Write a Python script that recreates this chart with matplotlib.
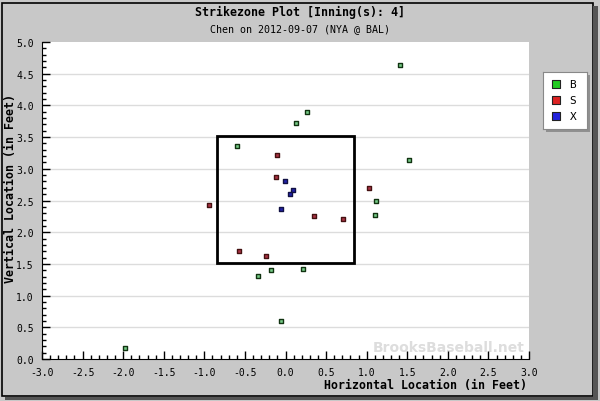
import matplotlib.pyplot as plt
from matplotlib.patches import Rectangle
from matplotlib.ticker import MultipleLocator

# === Pitch locations (feet) ===
ball_x = [1.41, 0.26, 0.13, -0.60, 1.52, 1.11, 1.10, 0.21, -0.18, -0.34, -0.06, -1.98]
ball_y = [4.64, 3.90, 3.72, 3.36, 3.14, 2.49, 2.27, 1.42, 1.40, 1.31, 0.60, 0.17]

strike_x = [-0.11, -0.12, 1.03, -0.94, 0.35, 0.71, -0.57, -0.24]
strike_y = [3.22, 2.87, 2.70, 2.43, 2.26, 2.21, 1.70, 1.62]

inplay_x = [-0.01, 0.09, 0.05, -0.06]
inplay_y = [2.81, 2.67, 2.60, 2.37]

zone_left, zone_right = -0.84, 0.84
zone_bottom, zone_top = 1.51, 3.51

legend_labels = ['B', 'S', 'X']
legend_colors = ['#22cc22', '#dd2222', '#2222dd']

mono = 'DejaVu Sans Mono'
bg = '#c8c8c8'

fig = plt.figure(figsize=(6.0, 4.02), dpi=100)
fig.patch.set_facecolor(bg)

# frame around the whole image
fig.patches.append(Rectangle((0.003, 0.012), 0.985, 0.978, transform=fig.transFigure,
                             fill=False, edgecolor='black', lw=1.2))
fig.patches.append(Rectangle((0.008, 0.003), 0.985, 0.008, transform=fig.transFigure,
                             facecolor='#555555', edgecolor='none'))
fig.patches.append(Rectangle((0.988, 0.003), 0.008, 0.98, transform=fig.transFigure,
                             facecolor='#555555', edgecolor='none'))

ax = fig.add_axes([0.07, 0.1045, 0.8117, 0.7885])
ax.set_facecolor('white')
ax.set_xlim(-3.0, 3.0)
ax.set_ylim(0.0, 5.0)

# horizontal grid only
for gy in [0.5, 1.0, 1.5, 2.0, 2.5, 3.0, 3.5, 4.0, 4.5]:
    ax.axhline(gy, color='#dcdcdc', lw=1.0, zorder=0)

# strike zone
ax.add_patch(Rectangle((zone_left, zone_bottom), zone_right - zone_left,
                       zone_top - zone_bottom, fill=False, edgecolor='black',
                       lw=2.0, zorder=2))

# pitches
ax.scatter(ball_x, ball_y, marker='s', s=10, c='#77cc88', edgecolors='#113311',
           linewidths=1.0, zorder=3)
ax.scatter(strike_x, strike_y, marker='s', s=10, c='#aa3344', edgecolors='#441111',
           linewidths=1.0, zorder=3)
ax.scatter(inplay_x, inplay_y, marker='s', s=10, c='#2222aa', edgecolors='#111144',
           linewidths=1.0, zorder=3)

# axes styling
for side in ['top', 'right']:
    ax.spines[side].set_visible(False)
ax.spines['left'].set_color('black')
ax.spines['bottom'].set_color('black')
ax.xaxis.set_major_locator(MultipleLocator(0.5))
ax.xaxis.set_minor_locator(MultipleLocator(0.1))
ax.yaxis.set_major_locator(MultipleLocator(0.5))
ax.yaxis.set_minor_locator(MultipleLocator(0.1))
ax.tick_params(which='major', direction='in', length=6, width=1, color='black',
               labelsize=7, pad=8)
ax.tick_params(which='minor', direction='in', length=3, width=1, color='black')
ax.set_xticks([-3.0, -2.5, -2.0, -1.5, -1.0, -0.5, 0.0, 0.5, 1.0, 1.5, 2.0, 2.5, 3.0])
ax.set_xticklabels(['%.1f' % v for v in ax.get_xticks()], fontfamily=mono)
ax.set_yticks([0.0, 0.5, 1.0, 1.5, 2.0, 2.5, 3.0, 3.5, 4.0, 4.5, 5.0])
ax.set_yticklabels(['%.1f' % v for v in ax.get_yticks()], fontfamily=mono)
ax.tick_params(axis='x', pad=6)
ax.tick_params(axis='y', pad=6)

# watermark
ax.text(2.95, 0.19, 'BrooksBaseball.net', ha='right', va='center', fontsize=10,
        fontweight='bold', color='#dddddd', fontfamily='DejaVu Sans', zorder=1)

# titles and axis labels
fig.text(0.5, 0.968, 'Strikezone Plot [Inning(s): 4]', ha='center', va='center',
         fontsize=8.4, fontweight='bold', fontfamily=mono)
fig.text(0.5, 0.927, 'Chen on 2012-09-07 (NYA @ BAL)', ha='center', va='center',
         fontsize=7.2, fontfamily=mono)
fig.text(0.879, 0.042, 'Horizontal Location (in Feet)', ha='right', va='center',
         fontsize=8.4, fontweight='bold', fontfamily=mono)
fig.text(0.017, 0.53, 'Vertical Location (in Feet)', ha='center', va='center',
         rotation=90, fontsize=8.4, fontweight='bold', fontfamily=mono)

# legend box
lax = fig.add_axes([0.905, 0.677, 0.073, 0.142])
lax.set_xlim(0, 1)
lax.set_ylim(0, 1)
lax.set_xticks([])
lax.set_yticks([])
lax.set_facecolor('white')
for sp in lax.spines.values():
    sp.set_color('#888888')
fig.patches.append(Rectangle((0.910, 0.668), 0.073, 0.142, transform=fig.transFigure,
                             facecolor='#909090', edgecolor='none', zorder=-1))
for i, (lab, col) in enumerate(zip(legend_labels, legend_colors)):
    yy = 0.78 - i * 0.28
    lax.scatter([0.3], [yy], marker='s', s=40, c=col, edgecolors='#222222', linewidths=0.8)
    lax.text(0.68, yy, lab, ha='center', va='center', fontsize=8, fontfamily=mono)

fig.savefig('out.png', dpi=100, facecolor=bg)
